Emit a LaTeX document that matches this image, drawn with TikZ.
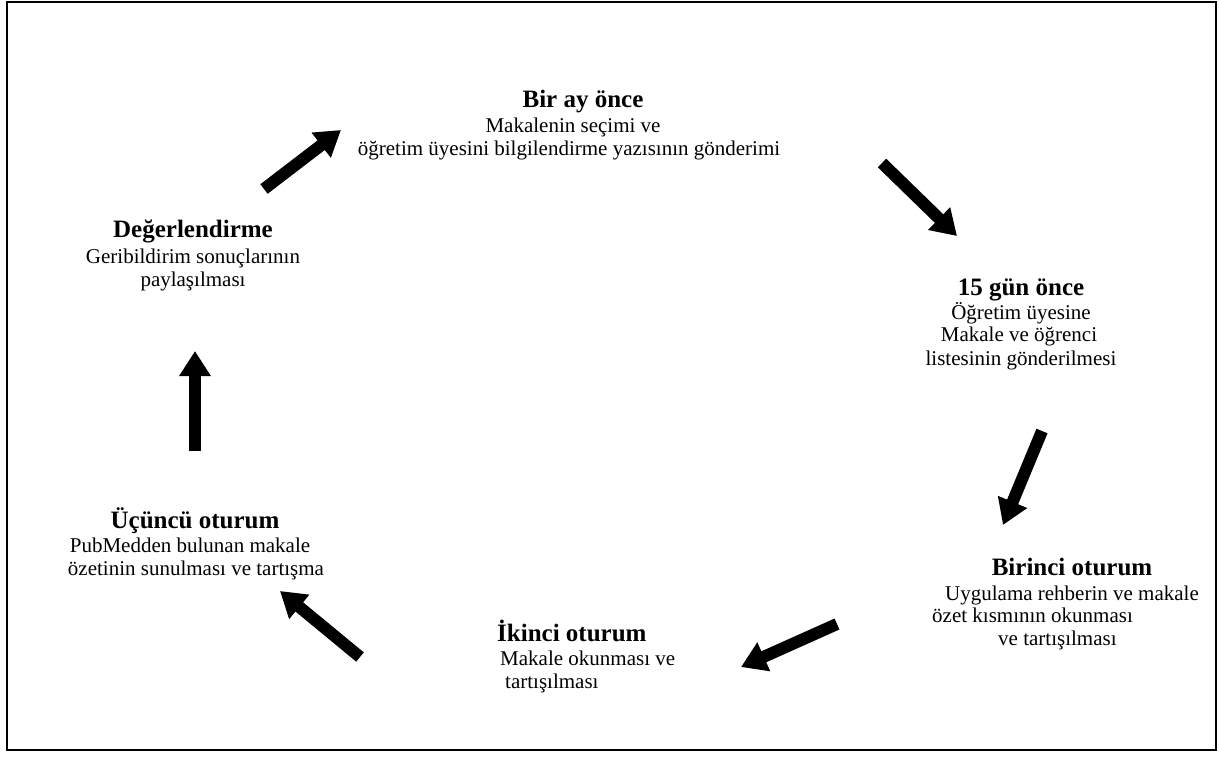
\documentclass[tikz,border=0pt]{standalone}
\usepackage{fontspec}
\setmainfont{Liberation Serif}
\usetikzlibrary{arrows.meta}
\begin{document}
\begin{tikzpicture}[x=1pt,y=-1pt,
 ttl/.style={font=\fontsize{25}{29}\selectfont\bfseries, anchor=base, inner sep=0pt},
 txt/.style={font=\fontsize{21}{24}\selectfont, anchor=base, inner sep=0pt},
 txtl/.style={txt, anchor=base west},
 ttll/.style={ttl, anchor=base west},
 blk/.style={line width=12pt, line cap=butt, -{Triangle[width=30pt,length=25pt]}}]
\useasboundingbox (0,0) rectangle (1219,756);
\draw[line width=2pt] (7,2) rectangle (1216,750);

% Bir ay once
\node[ttl] (a0) at (583,107) {Bir ay önce};
\node[txt] (a1) at (573,132) {Makalenin seçimi ve};
\node[txt] (a2) at (569,155) {öğretim üyesini bilgilendirme yazısının gönderimi};

% 15 gun once
\node[ttl] (b0) at (1021,295) {15 gün önce};
\node[txt] (b1) at (1021,319) {Öğretim üyesine};
\node[txt] (b2) at (1019,341) {Makale ve öğrenci};
\node[txt] (b3) at (1021,365) {listesinin gönderilmesi};

% Birinci oturum
\node[ttl] (c0) at (1072,575) {Birinci oturum};
\node[txt] (c1) at (1072,600) {Uygulama rehberin ve makale};
\node[txtl] (c2) at (932,622) {özet kısmının okunması};
\node[txtl] (c3) at (998,645) {ve tartışılması};

% Ikinci oturum
\node[ttll] (d0) at (497,641) {İkinci oturum};
\node[txtl] (d1) at (500,665) {Makale okunması ve};
\node[txtl] (d2) at (505,688) {tartışılması};

% Ucuncu oturum
\node[ttl] (e0) at (195,528) {Üçüncü oturum};
\node[txt] (e1) at (190,552) {PubMedden bulunan makale};
\node[txt] (e2) at (196,575) {özetinin sunulması ve tartışma};

% Degerlendirme
\node[ttl] (f0) at (193,237) {Değerlendirme};
\node[txt] (f1) at (193,263) {Geribildirim sonuçlarının};
\node[txt] (f2) at (193,286) {paylaşılması};

% arrows
\coordinate (p1s) at (264,189); \coordinate (p1e) at (341,130);
\coordinate (p2s) at (882,163); \coordinate (p2e) at (957,236);
\coordinate (p3s) at (1042,431); \coordinate (p3e) at (1003,525);
\coordinate (p4s) at (837,624); \coordinate (p4e) at (741,667);
\coordinate (p5s) at (360,657); \coordinate (p5e) at (280,591);
\coordinate (p6s) at (195,451); \coordinate (p6e) at (195,351);
\draw[blk] (p1s) -- (p1e);
\draw[blk] (p2s) -- (p2e);
\draw[blk] (p3s) -- (p3e);
\draw[blk] (p4s) -- (p4e);
\draw[blk] (p5s) -- (p5e);
\draw[blk] (p6s) -- (p6e);
\end{tikzpicture}
\end{document}
